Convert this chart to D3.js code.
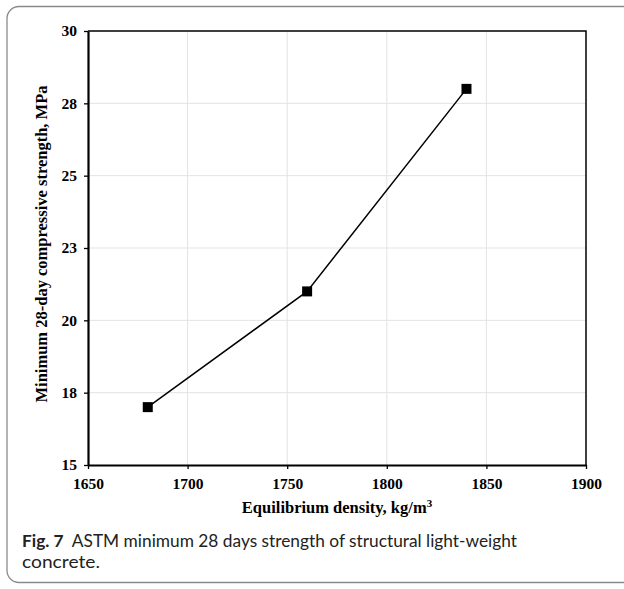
<!DOCTYPE html>
<html>
<head>
<meta charset="utf-8">
<script src="https://cdn.jsdelivr.net/npm/d3@7"></script>
<style>
body{margin:0;background:#fff;}
</style>
</head>
<body>
<div id="fig"></div>
<script>
var W = 624, H = 589;
var densite = [1680, 1760, 1840];
var resistance = [17, 21, 28];
var xTicks = [1650, 1700, 1750, 1800, 1850, 1900];
var yTicks = [15, 17.5, 20, 22.5, 25, 27.5, 30];

var marge = {g: 88, h: 31, d: 586, b: 465};
var serif = "'Liberation Serif', 'Times New Roman', serif";

var svg = d3.select("#fig").append("svg")
	.attr("width", W)
	.attr("height", H);

// cadre de la figure
svg.append("rect")
	.attr("x", 7).attr("y", 6.5)
	.attr("width", 640).attr("height", 576)
	.attr("rx", 12)
	.attr("fill", "none")
	.attr("stroke", "#8a8a8a")
	.attr("stroke-width", 1.3);

var x = d3.scaleLinear().domain([1650, 1900]).range([marge.g, marge.d]);
var y = d3.scaleLinear().domain([15, 30]).range([marge.b, marge.h]);

// grille
svg.append("g").selectAll("line").data(xTicks.slice(1, -1)).enter().append("line")
	.attr("x1", d => x(d)).attr("x2", d => x(d))
	.attr("y1", marge.h).attr("y2", marge.b)
	.attr("stroke", "#e3e3e3").attr("stroke-width", 1);
svg.append("g").selectAll("line").data(yTicks.slice(1, -1)).enter().append("line")
	.attr("x1", marge.g).attr("x2", marge.d)
	.attr("y1", d => y(d)).attr("y2", d => y(d))
	.attr("stroke", "#e3e3e3").attr("stroke-width", 1);

// bord haut et droite
svg.append("path")
	.attr("d", "M" + marge.g + "," + marge.h + "H" + marge.d + "V" + marge.b)
	.attr("fill", "none").attr("stroke", "#000").attr("stroke-width", 1.5);

var axeX = svg.append("g")
	.attr("transform", "translate(0," + marge.b + ")")
	.call(d3.axisBottom(x).tickValues(xTicks).tickSize(4).tickSizeOuter(0).tickPadding(9).tickFormat(d3.format("d")));
var axeY = svg.append("g")
	.attr("transform", "translate(" + marge.g + ",0)")
	.call(d3.axisLeft(y).tickValues(yTicks).tickSize(4).tickSizeOuter(0).tickPadding(7).tickFormat(d => Math.round(d)));

[axeX, axeY].forEach(function(a){
	a.select(".domain").attr("stroke", "#000").attr("stroke-width", 2.2);
	a.selectAll(".tick line").attr("stroke", "#000").attr("stroke-width", 1.3);
	a.selectAll("text")
		.attr("font-family", serif)
		.attr("font-weight", "bold")
		.attr("font-size", 15.5)
		.attr("fill", "#000");
});

// courbe
var ligne = d3.line().x((d, i) => x(densite[i])).y(d => y(d));
svg.append("path")
	.datum(resistance)
	.attr("d", ligne)
	.attr("fill", "none").attr("stroke", "#000").attr("stroke-width", 1.5);

svg.append("g").selectAll("rect").data(resistance).enter().append("rect")
	.attr("x", (d, i) => x(densite[i]) - 5)
	.attr("y", d => y(d) - 5)
	.attr("width", 10).attr("height", 10)
	.attr("fill", "#000");

// titres des axes
var titreX = svg.append("text")
	.attr("x", 337).attr("y", 513)
	.attr("text-anchor", "middle")
	.attr("font-family", serif)
	.attr("font-weight", "bold")
	.attr("font-size", 16.5)
	.text("Equilibrium density, kg/m");
titreX.append("tspan").attr("dy", -6).attr("font-size", 11).text("3");

svg.append("text")
	.attr("transform", "translate(47,244) rotate(-90)")
	.attr("text-anchor", "middle")
	.attr("font-family", serif)
	.attr("font-weight", "bold")
	.attr("font-size", 16.5)
	.text("Minimum 28-day compressive strength, MPa");

// légende de la figure
var leg = svg.append("text")
	.attr("x", 22).attr("y", 546.5)
	.attr("font-family", "Lato, sans-serif")
	.attr("font-size", 17)
	.attr("fill", "#222")
	.attr("textLength", 495)
	.attr("lengthAdjust", "spacingAndGlyphs");
leg.append("tspan").attr("font-weight", "bold").text("Fig. 7");
leg.append("tspan").attr("dx", 8).text("ASTM minimum 28 days strength of structural light-weight");
svg.append("text")
	.attr("x", 22).attr("y", 567.5)
	.attr("font-family", "Lato, sans-serif")
	.attr("font-size", 17)
	.attr("fill", "#222")
	.attr("textLength", 78)
	.attr("lengthAdjust", "spacingAndGlyphs")
	.text("concrete.");
</script>
</body>
</html>
